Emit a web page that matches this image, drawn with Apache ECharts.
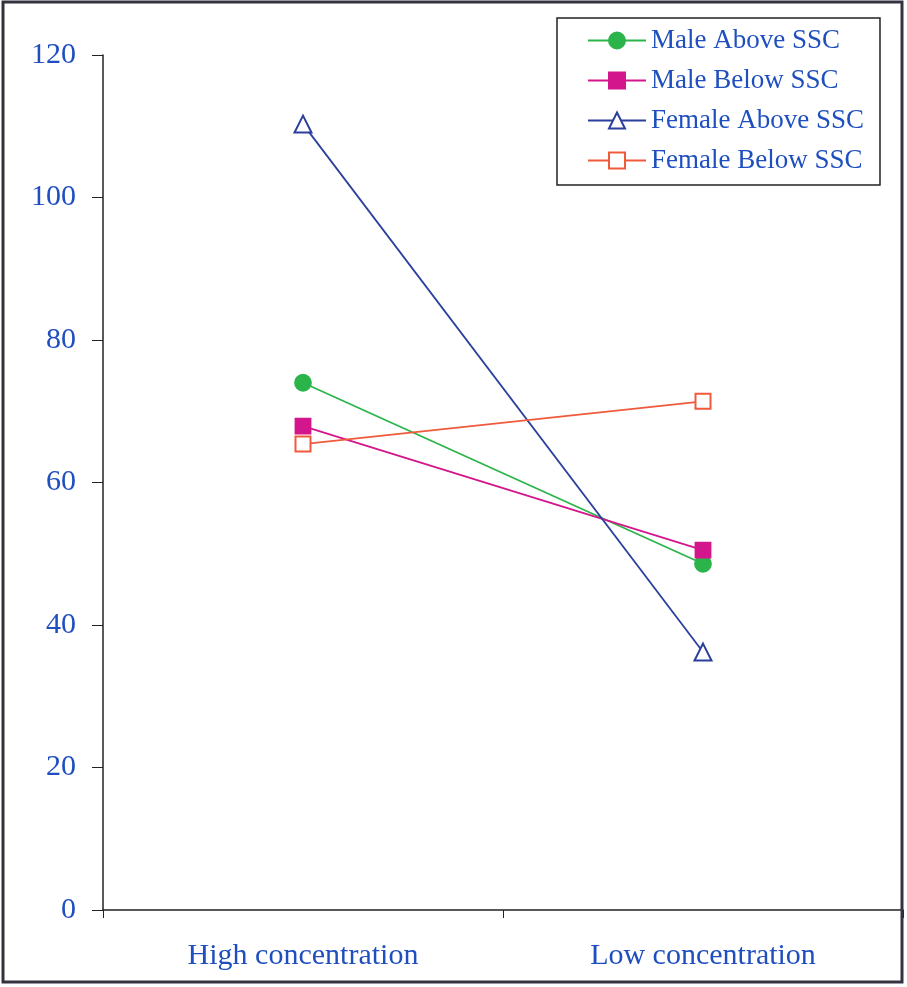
<!DOCTYPE html>
<html>
<head>
<meta charset="utf-8">
<script src="https://cdn.jsdelivr.net/npm/echarts@6/dist/echarts.min.js"></script>
<style>html,body{margin:0;padding:0;background:#fff;}#c{width:907px;height:987px;}</style>
</head>
<body>
<div id="c"></div>
<script>
const categories = ['High concentration', 'Low concentration'];
const maleAbove = [74.0, 48.6];
const maleBelow = [67.9, 50.5];
const femaleAbove = [110.3, 36.2];
const femaleBelow = [65.4, 71.4];
const seriesNames = ['Male Above SSC', 'Male Below SSC', 'Female Above SSC', 'Female Below SSC'];

const FONT = '"Liberation Serif", "Times New Roman", serif';
const TXT = '#1f4fbf';
const chart = echarts.init(document.getElementById('c'), null, {renderer: 'canvas'});
function s(name, data, color, symbol, size) {
  return {
    name: name, type: 'line', data: data,
    symbol: symbol, symbolSize: size,
    lineStyle: {color: color, width: 1.8},
    itemStyle: {color: color, borderColor: color, borderWidth: 1.8},
    emphasis: {disabled: true}
  };
}
chart.setOption({
  animation: false,
  backgroundColor: '#fff',
  graphic: [{
    type: 'rect', silent: true, z: 100,
    shape: {x: 3, y: 2, width: 899, height: 980},
    style: {fill: 'none', stroke: '#34323f', lineWidth: 3}
  }],
  grid: {left: 103, right: 4, top: 55, bottom: 77, containLabel: false},
  legend: {
    orient: 'vertical', left: 557, top: 18,
    padding: [9, 16, 11, 30],
    borderColor: '#222', borderWidth: 1.5,
    itemWidth: 58, itemHeight: 20, itemGap: 13,
    textStyle: {fontFamily: FONT, fontSize: 27, color: TXT},
    data: seriesNames
  },
  xAxis: {
    type: 'category', data: categories, boundaryGap: true,
    axisLine: {lineStyle: {color: '#222', width: 1.5}},
    axisTick: {show: true, length: 8, lineStyle: {color: '#222'}},
    axisLabel: {fontFamily: FONT, fontSize: 30, color: TXT, margin: 31},
    splitLine: {show: false}
  },
  yAxis: {
    type: 'value', min: 0, max: 120, interval: 20,
    axisLine: {show: true, lineStyle: {color: '#222', width: 1.5}},
    axisTick: {show: true, length: 11, lineStyle: {color: '#222'}},
    axisLabel: {fontFamily: FONT, fontSize: 30, color: TXT, margin: 27},
    splitLine: {show: false}
  },
  series: [
    s(seriesNames[0], maleAbove, '#2bb44a', 'circle', 16),
    s(seriesNames[1], maleBelow, '#d4168c', 'rect', 15),
    s(seriesNames[2], femaleAbove, '#2b3f9c', 'emptyTriangle', 17),
    s(seriesNames[3], femaleBelow, '#ef5a3c', 'emptyRect', 15)
  ]
});
</script>
</body>
</html>
